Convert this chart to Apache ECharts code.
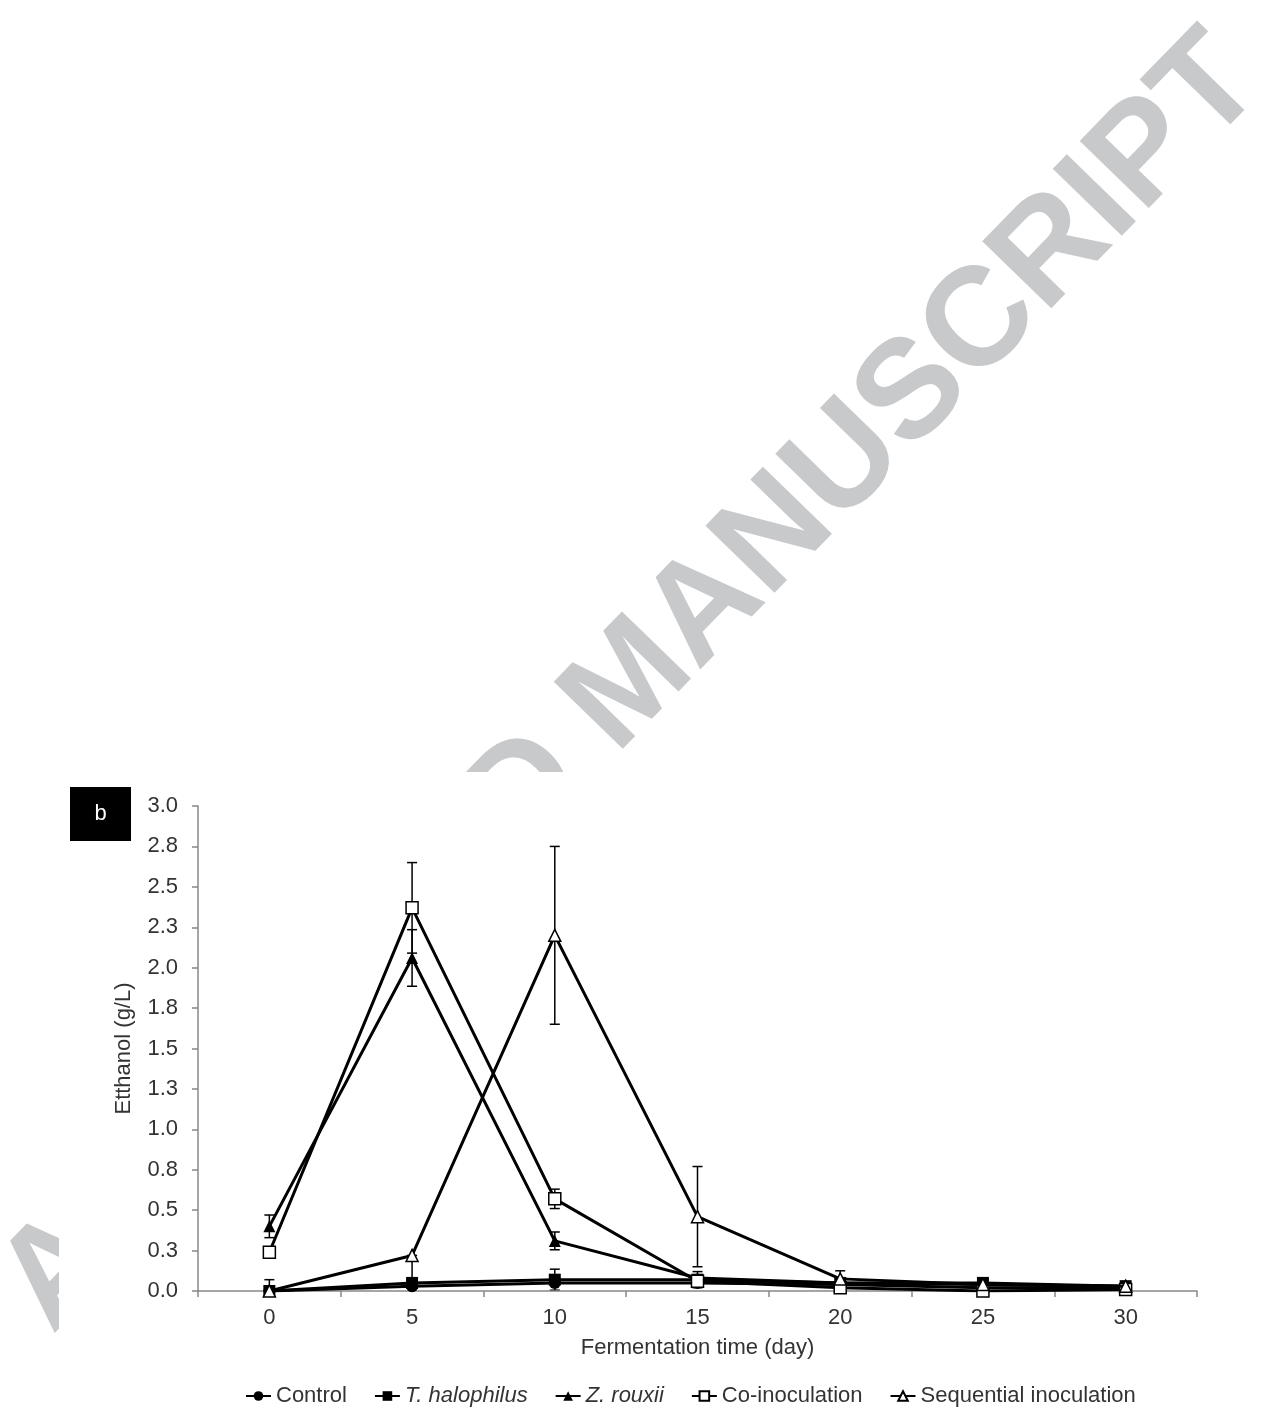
<!DOCTYPE html>
<html><head><meta charset="utf-8">
<script src="https://cdn.jsdelivr.net/npm/echarts@6/dist/echarts.min.js"></script>
<style>html,body{margin:0;padding:0;background:#fff}#c{width:1271px;height:1414px}</style>
</head><body><div id="c"></div>
<script>
const days = ['0','5','10','15','20','25','30'];
const yTickLabels = ['0.0','0.3','0.5','0.8','1.0','1.3','1.5','1.8','2.0','2.3','2.5','2.8','3.0'];
const control = [0, 0.03, 0.05, 0.05, 0.04, 0.02, 0.02];
const tHalophilus = [0, 0.05, 0.07, 0.07, 0.05, 0.05, 0.03];
const zRouxii = [0.40, 2.06, 0.31, 0.08, 0.05, 0.04, 0.03];
const coInoculation = [0.24, 2.37, 0.57, 0.06, 0.02, 0.00, 0.01];
const sequential = [0.00, 0.22, 2.20, 0.46, 0.075, 0.04, 0.03];
const controlErr = [0, 0, 0, 0, 0, 0, 0];
const tHalophilusErr = [0, 0.17, 0.065, 0.05, 0, 0, 0];
const zRouxiiErr = [0.07, 0.175, 0.055, 0, 0, 0, 0];
const coInoculationErr = [0, 0.28, 0.06, 0, 0, 0, 0];
const sequentialErr = [0.07, 0, 0.55, 0.31, 0.05, 0, 0];

const FONT = '"Liberation Sans", Arial, Helvetica, sans-serif';
const FS = 22;
const defs = [
  {name:'Control', data:control, err:controlErr, symbol:'circle', fill:'#000'},
  {name:'T. halophilus', data:tHalophilus, err:tHalophilusErr, symbol:'rect', fill:'#000'},
  {name:'Z. rouxii', data:zRouxii, err:zRouxiiErr, symbol:'triangle', fill:'#000'},
  {name:'Co-inoculation', data:coInoculation, err:coInoculationErr, symbol:'rect', fill:'#fff'},
  {name:'Sequential inoculation', data:sequential, err:sequentialErr, symbol:'triangle', fill:'#fff'}
];

function errRender(params, api){
  const x = api.value(0), lo = api.value(1), hi = api.value(2);
  const top = api.coord([x, hi]);
  const bot = api.coord([x, Math.max(lo, 0)]);
  const cap = 5, st = {stroke:'#000', lineWidth:1.5};
  const ch = [
    {type:'line', shape:{x1:top[0], y1:top[1], x2:bot[0], y2:bot[1]}, style:st},
    {type:'line', shape:{x1:top[0]-cap, y1:top[1], x2:top[0]+cap, y2:top[1]}, style:st}
  ];
  if (lo >= 0) ch.push({type:'line', shape:{x1:bot[0]-cap, y1:bot[1], x2:bot[0]+cap, y2:bot[1]}, style:st});
  return {type:'group', children:ch};
}

const series = [];
defs.forEach((d, k) => {
  const ed = [];
  d.err.forEach((e, i) => { if (e > 0) ed.push([i, d.data[i] - e, d.data[i] + e]); });
  series.push({
    type:'custom', name:'err' + k, renderItem:errRender, data:ed, z:3,
    encode:{x:0, y:[1,2]}, silent:true
  });
});
defs.forEach((d, k) => {
  series.push({
    type:'line', name:d.name, data:d.data, symbol:d.symbol, symbolSize:12, z:10 + k,
    showAllSymbol:true,
    lineStyle:{color:'#000', width:3},
    itemStyle:{color:d.fill, borderColor:'#000', borderWidth: d.fill === '#fff' ? 1.5 : 0},
    emphasis:{disabled:true}, animation:false
  });
});

const chart = echarts.init(document.getElementById('c'));
chart.setOption({
  backgroundColor:'#fff',
  animation:false,
  graphic:[
    {type:'text', x:632, y:684, rotation:Math.PI*45.8/180, z:1,
      style:{text:'ACCEPTED MANUSCRIPT', font:'bold 140px ' + FONT, fill:'#c8c9cb', align:'center', verticalAlign:'middle'}},
    {type:'rect', shape:{x:59, y:772, width:1212, height:642}, style:{fill:'#fff'}, z:2},
    {type:'rect', shape:{x:70, y:787, width:61, height:54}, style:{fill:'#000'}, z:3},
    {type:'text', x:100.5, y:814, z:4, style:{text:'b', font:'22px ' + FONT, fill:'#fff', align:'center', verticalAlign:'middle'}}
  ],
  grid:{left:198, right:74, top:806, bottom:123, containLabel:false},
  legend:{
    left:240, top:1380, itemGap:27, itemWidth:25, itemHeight:12, z:20,
    data:defs.map(d => d.name),
    formatter: n => (n === 'T. halophilus' || n === 'Z. rouxii') ? '{i|' + n + '}' : '{n|' + n + '}',
    textStyle:{fontFamily:FONT, fontSize:FS, color:'#333',
      rich:{i:{fontStyle:'italic', fontFamily:FONT, fontSize:FS, color:'#333'}, n:{fontFamily:FONT, fontSize:FS, color:'#333'}}}
  },
  xAxis:{
    type:'category', data:days, boundaryGap:true, z:5,
    name:'Fermentation time (day)', nameLocation:'middle', nameGap:46,
    nameTextStyle:{fontFamily:FONT, fontSize:FS, color:'#333'},
    axisLine:{lineStyle:{color:'#888', width:1.5}},
    axisTick:{show:true, alignWithLabel:false, length:6, lineStyle:{color:'#888', width:1.5}},
    axisLabel:{fontFamily:FONT, fontSize:FS, color:'#333', margin:16},
    splitLine:{show:false}
  },
  yAxis:{
    type:'value', min:0, max:3, interval:0.25, z:5,
    name:'Etthanol (g/L)', nameLocation:'middle', nameGap:63,
    nameTextStyle:{fontFamily:FONT, fontSize:FS, color:'#333'},
    axisLine:{show:true, lineStyle:{color:'#888', width:1.5}},
    axisTick:{show:true, length:6, lineStyle:{color:'#888', width:1.5}},
    axisLabel:{fontFamily:FONT, fontSize:FS, color:'#333', margin:20,
      formatter: v => yTickLabels[Math.round(v / 0.25)]},
    splitLine:{show:false}
  },
  series:series
});
</script></body></html>
